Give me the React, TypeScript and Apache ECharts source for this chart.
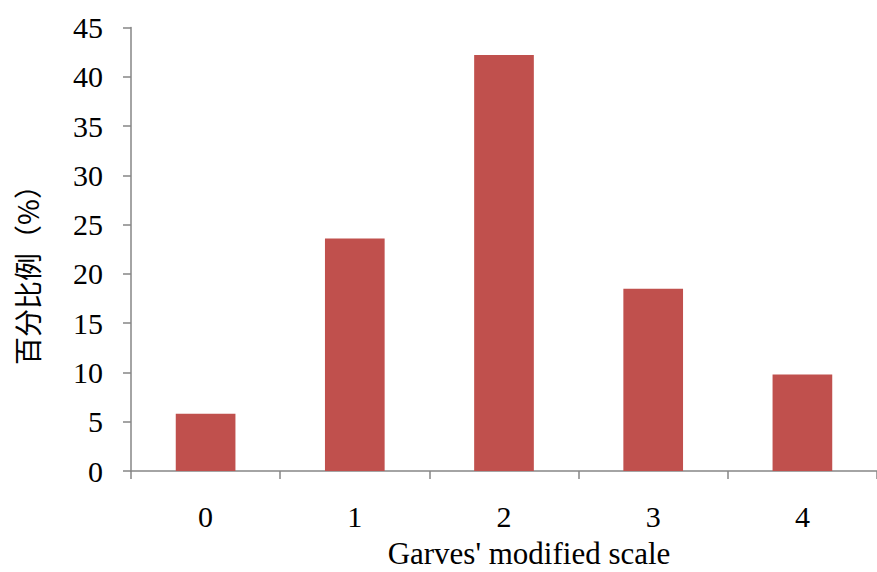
import React, { useEffect, useRef } from "react";
import * as echarts from "echarts";

const categories = ["0", "1", "2", "3", "4"];
const percentValues = [5.8, 23.6, 42.2, 18.5, 9.8];
const yTicks = { min: 0, max: 45, interval: 5 };
const xTitle = "Garves' modified scale";
const yTitle = "百分比例（%）";

const FONT = "Liberation Serif";
const CJK_FONT = "Noto Sans CJK SC";
const AXIS_COLOR = "#868686";

export default function App() {
  const ref = useRef<HTMLDivElement>(null);
  useEffect(() => {
    if (!ref.current) return;
    const chart = echarts.init(ref.current, null, { renderer: "svg" });
    chart.setOption({
      animation: false,
      backgroundColor: "#ffffff",
      grid: { left: 131, top: 27.5, width: 752, height: 443.5, containLabel: false },
      xAxis: {
        type: "category",
        data: categories,
        boundaryGap: true,
        axisLine: { show: true, lineStyle: { color: AXIS_COLOR, width: 1.5 } },
        axisTick: { show: true, alignWithLabel: false, length: 8, lineStyle: { color: AXIS_COLOR, width: 1.5 } },
        axisLabel: { color: "#000", fontFamily: FONT, fontSize: 30, margin: 30 },
        splitLine: { show: false },
      },
      yAxis: {
        type: "value",
        min: yTicks.min,
        max: yTicks.max,
        interval: yTicks.interval,
        axisLine: { show: true, lineStyle: { color: AXIS_COLOR, width: 1.5 } },
        axisTick: { show: true, length: 8, lineStyle: { color: AXIS_COLOR, width: 1.5 } },
        axisLabel: { color: "#000", fontFamily: FONT, fontSize: 30, margin: 28 },
        splitLine: { show: false },
      },
      series: [
        {
          type: "bar",
          data: percentValues,
          barWidth: "40%",
          itemStyle: { color: "#C0504D" },
        },
      ],
      graphic: [
        {
          type: "text",
          x: 529,
          y: 553,
          style: {
            text: xTitle,
            fontFamily: FONT,
            fontSize: 31,
            fill: "#000",
            textAlign: "center",
            textVerticalAlign: "middle",
          },
        },
        {
          type: "text",
          x: 27,
          y: 268,
          rotation: Math.PI / 2,
          style: {
            text: yTitle,
            fontFamily: CJK_FONT,
            fontSize: 28,
            fill: "#000",
            textAlign: "center",
            textVerticalAlign: "middle",
          },
        },
      ],
    });
    return () => chart.dispose();
  }, []);
  return (
    <div
      ref={ref}
      style={{ position: "absolute", left: 0, top: 0, width: 877, height: 572 }}
    />
  );
}
